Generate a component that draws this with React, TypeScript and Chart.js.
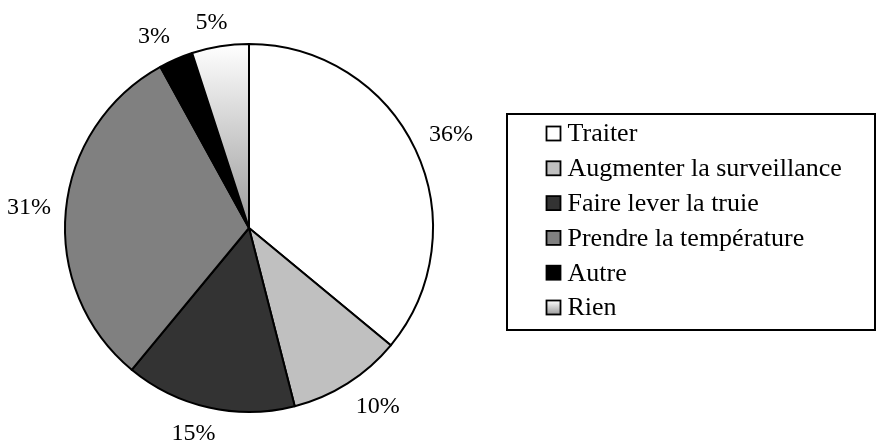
import React, { useEffect, useRef } from "react";
import { Chart, registerables } from "chart.js";

Chart.register(...registerables);

// ---- data ----
const categories = [
  "Traiter",
  "Augmenter la surveillance",
  "Faire lever la truie",
  "Prendre la température",
  "Autre",
  "Rien",
];
const values = [36, 10, 15, 31, 3, 5];
const percentLabels = ["36%", "10%", "15%", "31%", "3%", "5%"];

// ---- styles ----
const solidFills = ["#ffffff", "#c0c0c0", "#333333", "#808080", "#000000", null];
const GRADIENT_TOP = "#ffffff";
const GRADIENT_BOTTOM = "#9a9a9a";
const FONT = "'Liberation Serif', 'Times New Roman', serif";
const W = 876;
const H = 443;
const RADIUS = 184;

function pieFill(ctx: any) {
  const i = ctx.dataIndex;
  const solid = solidFills[i];
  if (solid) return solid;
  const chart = ctx.chart;
  const area = chart.chartArea;
  if (!area) return GRADIENT_BOTTOM;
  const cy = (area.top + area.bottom) / 2;
  const g = chart.ctx.createLinearGradient(0, cy - RADIUS, 0, cy);
  g.addColorStop(0, GRADIENT_TOP);
  g.addColorStop(1, GRADIENT_BOTTOM);
  return g;
}

const labelPlugin = {
  id: "outsideLabels",
  afterDatasetsDraw(chart: any) {
    const ctx = chart.ctx;
    const meta = chart.getDatasetMeta(0);
    ctx.save();
    ctx.font = `24px ${FONT}`;
    ctx.fillStyle = "#000";
    ctx.textAlign = "center";
    ctx.textBaseline = "middle";
    const f = (v: number) => Math.sign(v) * Math.min(1, Math.abs(v) / 0.4);
    meta.data.forEach((arc: any, i: number) => {
      const { x, y, startAngle, endAngle, outerRadius } = arc.getProps(
        ["x", "y", "startAngle", "endAngle", "outerRadius"],
        true
      );
      const mid = (startAngle + endAngle) / 2;
      const ux = Math.cos(mid);
      const uy = Math.sin(mid);
      const R = outerRadius + 15;
      const px = x + ux * R;
      const py = y + uy * R;
      const text = percentLabels[i];
      const w = ctx.measureText(text).width;
      const h = 20;
      ctx.fillText(text, px + (f(ux) * w) / 2, py + (f(uy) * h) / 2 + 1);
    });
    ctx.restore();
  },
};

const legendPlugin = {
  id: "boxLegend",
  afterDraw(chart: any) {
    const ctx = chart.ctx;
    const area = chart.chartArea;
    const boxLeft = area.right + 9;
    const boxTop = 114;
    const boxW = 368;
    const boxH = 216;
    ctx.save();
    ctx.lineWidth = 2;
    ctx.strokeStyle = "#000";
    ctx.strokeRect(boxLeft, boxTop, boxW, boxH);

    const rowStart = boxTop + 19.5;
    const rowStep = 34.8;
    const sq = 14;
    const sqX = boxLeft + 39.5;
    ctx.font = `26px ${FONT}`;
    ctx.textBaseline = "middle";
    ctx.textAlign = "left";
    categories.forEach((name, i) => {
      const cy = rowStart + i * rowStep;
      const sy = cy - sq / 2;
      const solid = solidFills[i];
      if (solid) {
        ctx.fillStyle = solid;
      } else {
        const g = ctx.createLinearGradient(0, sy, 0, sy + sq);
        g.addColorStop(0, GRADIENT_TOP);
        g.addColorStop(1, GRADIENT_BOTTOM);
        ctx.fillStyle = g;
      }
      ctx.fillRect(sqX, sy, sq, sq);
      ctx.lineWidth = 1.8;
      ctx.strokeStyle = "#000";
      ctx.strokeRect(sqX, sy, sq, sq);
      ctx.fillStyle = "#000";
      ctx.fillText(name, sqX + sq + 7, cy + 1);
    });
    ctx.restore();
  },
};

export default function App() {
  const canvasRef = useRef<HTMLCanvasElement | null>(null);

  useEffect(() => {
    if (!canvasRef.current) return;
    const chart = new Chart(canvasRef.current, {
      type: "pie",
      data: {
        labels: categories,
        datasets: [
          {
            data: values,
            backgroundColor: pieFill as any,
            borderColor: "#000000",
            borderWidth: 2,
            borderJoinStyle: "round",
            radius: RADIUS,
          } as any,
        ],
      },
      options: {
        responsive: false,
        animation: false,
        events: [],
        layout: { padding: { left: 0, right: 378, top: 13, bottom: 0 } },
        plugins: {
          legend: { display: false },
          tooltip: { enabled: false },
        },
      },
      plugins: [labelPlugin, legendPlugin],
    });
    return () => chart.destroy();
  }, []);

  return (
    <div style={{ position: "absolute", left: 0, top: 0, width: W, height: H, background: "#fff" }}>
      <canvas ref={canvasRef} width={W} height={H} style={{ display: "block" }} />
    </div>
  );
}
